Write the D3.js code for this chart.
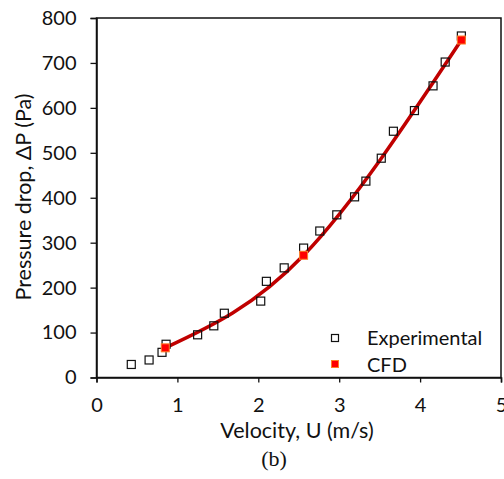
<!DOCTYPE html>
<html>
<head>
<meta charset="utf-8">
<script src="https://cdn.jsdelivr.net/npm/d3@7"></script>
<style>
  body { margin: 0; background: #fff; }
  text { font-family: Lato, "Open Sans", sans-serif; fill: #111; }
</style>
</head>
<body>
<div id="chart"></div>
<script>
// experimental measurements (hollow squares)
const exp_u = [0.43, 0.65, 0.81, 0.86, 1.25, 1.45, 1.58, 2.03, 2.10, 2.32, 2.56, 2.76,
               2.97, 3.19, 3.33, 3.52, 3.67, 3.93, 4.16, 4.31, 4.51];
const exp_dp = [29, 39, 56, 74, 95, 115, 143, 170, 214, 244, 288, 326,
                362, 402, 437, 488, 548, 594, 649, 702, 760];

// CFD results (red squares + smooth line)
const cfd_u = [0.85, 2.56, 4.51];
const cfd_dp = [66, 272, 751];

const x_ticks = [0, 1, 2, 3, 4, 5];
const y_ticks = [0, 100, 200, 300, 400, 500, 600, 700, 800];

const width = 504, height = 479;
const margin = { left: 96.5, right: 3, top: 18, bottom: 101.5 };
const font_size = 20;

let svg = d3.select("#chart").append("svg")
  .attr("width", width)
  .attr("height", height);

let x = d3.scaleLinear().domain([0, 5]).range([margin.left, width - margin.right]);
let y = d3.scaleLinear().domain([0, 800]).range([height - margin.bottom, margin.top]);

// frame
svg.append("rect")
  .attr("x", x(0)).attr("y", y(800))
  .attr("width", x(5) - x(0)).attr("height", y(0) - y(800))
  .attr("fill", "none").attr("stroke", "#111").attr("stroke-width", 1.5);

// axes
let x_axis = svg.append("g")
  .attr("transform", "translate(0," + y(0) + ")")
  .call(d3.axisBottom(x).tickValues(x_ticks).tickSize(5).tickPadding(15).tickFormat(d3.format("d")));
let y_axis = svg.append("g")
  .attr("transform", "translate(" + x(0) + ",0)")
  .call(d3.axisLeft(y).tickValues(y_ticks).tickSize(6).tickPadding(14).tickFormat(d3.format("d")));

[x_axis, y_axis].forEach((g) => {
  g.select(".domain").attr("stroke", "#111").attr("stroke-width", 1.5);
  g.selectAll(".tick line").attr("stroke", "#111").attr("stroke-width", 1.3);
  g.selectAll(".tick text").attr("font-size", font_size).attr("fill", "#111")
    .style("font-family", "Lato, 'Open Sans', sans-serif");
});

// axis titles
svg.append("text")
  .attr("x", 297).attr("y", 438)
  .attr("text-anchor", "middle").attr("font-size", 21.5)
  .text("Velocity, U (m/s)");

svg.append("text")
  .attr("transform", "translate(31," + 197 + ") rotate(-90)")
  .attr("text-anchor", "middle").attr("font-size", 21.5)
  .text("Pressure drop, \u0394P (Pa)");

svg.append("text")
  .attr("x", 274).attr("y", 466)
  .attr("text-anchor", "middle").attr("font-size", 22)
  .style("font-family", "'Liberation Serif', 'DejaVu Serif', serif")
  .text("(b)");

// CFD curve
let cfd = cfd_u.map((u, i) => ({ u: u, dp: cfd_dp[i] }));
let line = d3.line()
  .x((d) => x(d.u))
  .y((d) => y(d.dp))
  .curve(d3.curveNatural);

svg.append("path")
  .datum(cfd)
  .attr("d", line)
  .attr("fill", "none")
  .attr("stroke", "#C00000")
  .attr("stroke-width", 3.5);

// experimental points
let exp = exp_u.map((u, i) => ({ u: u, dp: exp_dp[i] }));
const s = 8;
svg.selectAll(".exp").data(exp).enter()
  .append("rect")
  .attr("class", "exp")
  .attr("x", (d) => x(d.u) - s / 2)
  .attr("y", (d) => y(d.dp) - s / 2)
  .attr("width", s).attr("height", s)
  .attr("fill", "none")
  .attr("stroke", "#111")
  .attr("stroke-width", 1.2);

// CFD points
const c = 8;
svg.selectAll(".cfd").data(cfd).enter()
  .append("rect")
  .attr("class", "cfd")
  .attr("x", (d) => x(d.u) - c / 2)
  .attr("y", (d) => y(d.dp) - c / 2)
  .attr("width", c).attr("height", c)
  .attr("fill", "#FF0000")
  .attr("stroke", "#FF7F27")
  .attr("stroke-width", 1);

// legend
let legend = svg.append("g");
legend.append("rect")
  .attr("x", 331.5).attr("y", 334.5).attr("width", 7).attr("height", 7)
  .attr("fill", "none").attr("stroke", "#111").attr("stroke-width", 1.2);
legend.append("text")
  .attr("x", 367).attr("y", 345).attr("font-size", font_size)
  .text("Experimental");
legend.append("rect")
  .attr("x", 331.5).attr("y", 360.5).attr("width", 7).attr("height", 7)
  .attr("fill", "#FF0000").attr("stroke", "#FF7F27").attr("stroke-width", 1);
legend.append("text")
  .attr("x", 367).attr("y", 371.5).attr("font-size", font_size)
  .text("CFD");
</script>
</body>
</html>
